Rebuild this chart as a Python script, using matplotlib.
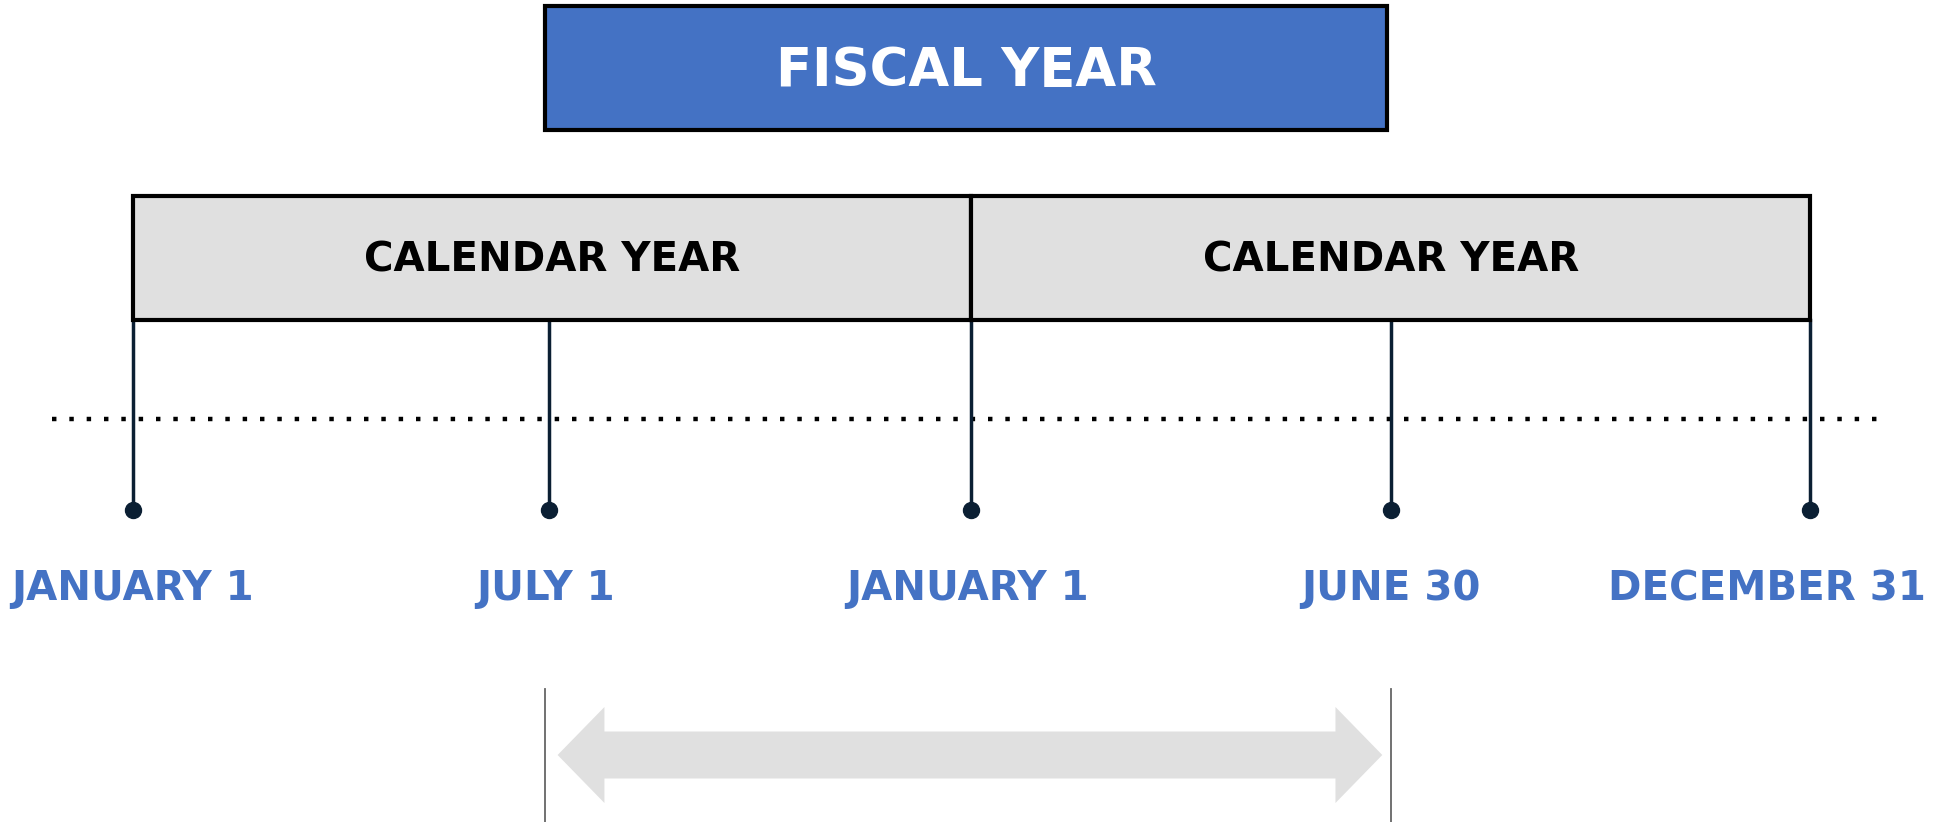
import matplotlib.pyplot as plt
from matplotlib.patches import Rectangle, Polygon

# timeline in months from the first January 1
dates = ["JANUARY 1", "JULY 1", "JANUARY 1", "JUNE 30", "DECEMBER 31"]
date_pos = [0, 5.95, 12, 18, 24]
label_shift = [0, -0.05, -0.05, 0, -0.62]

calendar_years = ["CALENDAR YEAR", "CALENDAR YEAR"]
calendar_start = [0, 12]
calendar_end = [12, 24]

fiscal_label = "FISCAL YEAR"
fiscal_start = 5.9
fiscal_end = 17.95

blue = "#4472c4"
grey = "#e0e0e0"
navy = "#0b1f33"

fig = plt.figure(figsize=(19.44, 8.22), dpi=100)
ax = fig.add_axes([0, 0, 1, 1])
px = (1810 - 132.7) / 24
ax.set_xlim(-132.7 / px, (1944 - 132.7) / px)
ax.set_ylim(822, 0)
ax.axis("off")

# fiscal year box
ax.add_patch(Rectangle((fiscal_start, 6), fiscal_end - fiscal_start, 124,
                       facecolor=blue, edgecolor="black", lw=3, zorder=2))
ax.text((fiscal_start + fiscal_end) / 2, 71, fiscal_label, color="white",
        fontsize=38, fontweight="bold", ha="center", va="center")

# calendar year boxes
for name, s, e in zip(calendar_years, calendar_start, calendar_end):
    ax.add_patch(Rectangle((s, 196), e - s, 124, facecolor=grey,
                           edgecolor="black", lw=3, zorder=2))
    ax.text((s + e) / 2, 260, name, color="black", fontsize=29,
            fontweight="bold", ha="center", va="center", zorder=3)

# dotted line
ax.plot([-1.15, 25.0], [419, 419], color="black", lw=3.2,
        linestyle=(0, (1, 2.9)), zorder=1)

# stems, dots and labels
for name, x, dx in zip(dates, date_pos, label_shift):
    ax.plot([x, x], [320, 510], color=navy, lw=2.5, zorder=1)
    ax.plot(x, 510, "o", color=navy, ms=11.5, zorder=3)
    ax.text(x + dx, 589, name, color=blue, fontsize=29, fontweight="bold",
            ha="center", va="center")

# fiscal span marker lines
for x in [fiscal_start, 18.0]:
    ax.plot([x, x], [689, 822], color="#666666", lw=1.3)

# double arrow
a0, a1 = 6.08, 17.88
yc, body, head, hl = 755, 23.5, 48, 0.67
arrow = Polygon([
    (a0, yc), (a0 + hl, yc - head), (a0 + hl, yc - body),
    (a1 - hl, yc - body), (a1 - hl, yc - head), (a1, yc),
    (a1 - hl, yc + head), (a1 - hl, yc + body), (a0 + hl, yc + body),
    (a0 + hl, yc + head)], closed=True, facecolor=grey, edgecolor="none")
ax.add_patch(arrow)

fig.savefig("out.png", dpi=100, facecolor="white")
